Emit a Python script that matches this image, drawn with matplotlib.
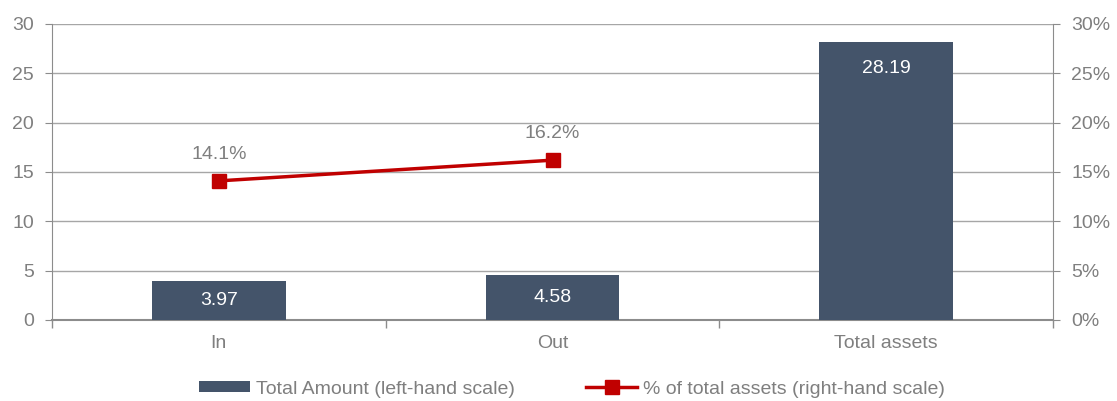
import matplotlib
matplotlib.use("Agg")
import matplotlib.pyplot as plt
from matplotlib.ticker import FuncFormatter, FixedLocator

plt.rcParams['font.family'] = ['Liberation Sans', 'DejaVu Sans']

categories = ["In", "Out", "Total assets"]
amounts = [3.97, 4.58, 28.19]
pct_categories = ["In", "Out"]
pct_values = [14.1, 16.2]

bar_color = "#44546a"
line_color = "#c00000"
text_color = "#7f7f7f"
grid_color = "#a6a6a6"
axis_color = "#8c8c8c"
FS = 14

fig = plt.figure(figsize=(11.17, 4.01), dpi=100)
ax = fig.add_axes([52/1117, 1-320/401, (1053-52)/1117, (320-24)/401])
ax2 = ax.twinx()

x = list(range(len(categories)))
ax.bar(x, amounts, width=0.4, color=bar_color, zorder=3, label="Total Amount (left-hand scale)")
ax.set_xlim(-0.5, len(categories) - 0.5)
ax.set_ylim(0, 30)
ax.set_yticks(range(0, 31, 5))
ax.yaxis.grid(True, color=grid_color, linewidth=1, zorder=0)
ax.set_axisbelow(True)

ax.set_xticks(x)
ax.set_xticklabels(categories)
ax.xaxis.set_minor_locator(FixedLocator([i - 0.5 for i in range(len(categories) + 1)]))
ax.tick_params(axis='x', which='major', length=0, pad=11, labelsize=FS, labelcolor=text_color)
ax.tick_params(axis='x', which='minor', length=6, color=axis_color, width=1)
ax.tick_params(axis='y', length=5, color=axis_color, labelsize=FS, labelcolor=text_color, pad=8)

ax.spines['top'].set_visible(False)
ax2.spines['top'].set_visible(False)
ax.spines['right'].set_visible(False)
ax.spines['left'].set_color(axis_color)
ax.spines['bottom'].set_color(axis_color)
ax.spines['bottom'].set_linewidth(1.5)
ax2.spines['left'].set_visible(False)
ax2.spines['bottom'].set_visible(False)
ax2.spines['right'].set_color(axis_color)

# bar labels
off = 2.73
for xi, v in zip(x, amounts):
    yl = max(v - off, v / 2)
    ax.text(xi, yl, f"{v:.2f}", color="white", ha="center", va="center", fontsize=FS, zorder=4)

# line on right axis
px = [categories.index(c) for c in pct_categories]
ax2.plot(px, pct_values, color=line_color, linewidth=2.5, marker='s', markersize=10,
         zorder=5, label="% of total assets (right-hand scale)")
ax2.set_ylim(0, 30)
ax2.set_yticks(range(0, 31, 5))
ax2.yaxis.set_major_formatter(FuncFormatter(lambda v, p: f"{v:.0f}%"))
ax2.tick_params(axis='y', length=5, color=axis_color, labelsize=FS, labelcolor=text_color, pad=8)
for xi, v in zip(px, pct_values):
    ax2.annotate(f"{v:.1f}%", (xi, v), xytext=(0, 15.8), textcoords='offset points',
                 ha='center', va='baseline', fontsize=FS, color=text_color)

h1, l1 = ax.get_legend_handles_labels()
h2, l2 = ax2.get_legend_handles_labels()
leg = fig.legend(h1 + h2, l1 + l2, loc='center', bbox_to_anchor=(572/1117, 1-389/401),
                 ncol=2, frameon=False, fontsize=FS, handlelength=2.6, handleheight=0.55,
                 handletextpad=0.3, columnspacing=3.7, borderpad=0)
for t in leg.get_texts():
    t.set_color(text_color)

fig.savefig("out.png", dpi=100)
